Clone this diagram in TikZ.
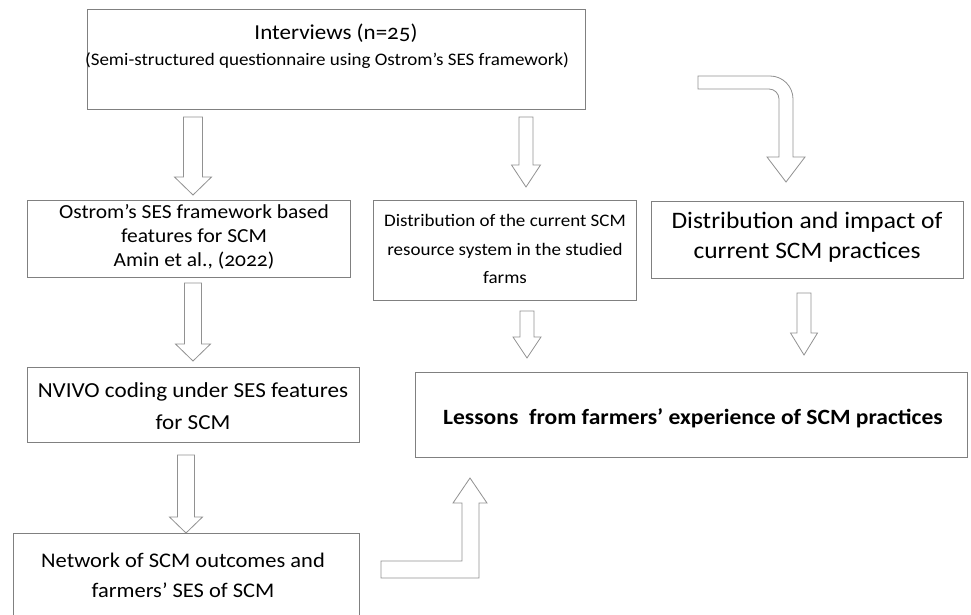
\documentclass[tikz,border=0pt]{standalone}
\usepackage{fontspec}
\setmainfont{Carlito}[Numbers=OldStyle, FakeStretch=1.08]
\definecolor{boxgray}{RGB}{128,128,128}
\definecolor{arrgray}{RGB}{145,145,145}
\tikzset{
  box/.style={draw=boxgray, line width=0.9pt, inner sep=0pt, anchor=north west},
  txt/.style={align=center, inner sep=0pt, text=black},
  blockarr/.style={draw=arrgray, line width=0.8pt, fill=white, line join=miter},
}
% cx, top, head start, tip, shaft width, head width
\newcommand{\blockdown}[6]{%
  \draw[blockarr] ({#1-#5/2},#2) -- ({#1+#5/2},#2) -- ({#1+#5/2},#3) -- ({#1+#6/2},#3)
    -- (#1,#4) -- ({#1-#6/2},#3) -- ({#1-#5/2},#3) -- cycle;}
\begin{document}
\begin{tikzpicture}[x=1pt,y=-1pt]
\useasboundingbox (0,0) rectangle (971,615);
\fill[white] (0,0) rectangle (971,615);

% boxes
\node[box, minimum width=498pt, minimum height=100pt] (b1) at (87,9) {};
\node[box, minimum width=323pt, minimum height=77pt] (b2) at (27,200) {};
\node[box, minimum width=263pt, minimum height=100pt] (b3) at (373,200) {};
\node[box, minimum width=312pt, minimum height=77pt] (b4) at (651,201) {};
\node[box, minimum width=332pt, minimum height=75pt] (b5) at (27,367) {};
\begin{scope}
  \clip (0,0) rectangle (971,615);
  \node[box, minimum width=346pt, minimum height=95pt] (b6) at (13,533) {};
\end{scope}
\node[box, minimum width=552pt, minimum height=85pt] (b7) at (415,372) {};

% texts
\node[txt, font=\fontsize{21.3}{26}\selectfont] (t1a) at (336,33) {Interviews (n=25)};
\node[txt, font=\fontsize{17.6}{22}\selectfont] (t1b) at (327,61) {(Semi-structured questionnaire using Ostrom’s SES framework)};
\node[txt, font=\fontsize{19.9}{24}\selectfont] (t2) at (194,237) {Ostrom’s SES framework based\\features for SCM\\Amin et al., (2022)};
\node[txt, font=\fontsize{17.6}{28.5}\selectfont] (t3) at (505,249) {Distribution of the current SCM\\resource system in the studied\\farms};
\node[txt, font=\fontsize{23.6}{30}\selectfont] (t4) at (807,237) {Distribution and impact of\\current SCM practices};
\node[txt, font=\fontsize{21.4}{32}\selectfont] (t5) at (193,406) {NVIVO coding under SES features\\for SCM};
\node[txt, font=\fontsize{20.8}{30}\selectfont] (t6) at (183,575) {Network of SCM outcomes and\\farmers’ SES of SCM};
\node[txt, font=\bfseries\fontsize{21.8}{26}\selectfont] (t7) at (693,418) {Lessons\ \ from farmers’ experience of SCM practices};

% straight block arrows
\blockdown{193}{117}{177}{195}{19}{37}
\blockdown{526}{117}{165}{187}{14}{29}
\blockdown{193}{283}{344}{361}{17}{35}
\blockdown{186}{455}{517}{533}{17}{33}
\blockdown{527}{311}{337}{358}{14}{28}
\blockdown{804}{293}{333}{355}{14}{27}

% bent arrow from top box to right box
\draw[blockarr] (698,76) -- (770,76) .. controls (782.7,76) and (793,86.3) .. (793,99)
  -- (793,157) -- (805,157) -- (786,182) -- (767,157) -- (779,157) -- (779,99)
  .. controls (779,93.5) and (774.5,89) .. (769,89) -- (698,89) -- cycle;

% bent arrow from network box up to lessons box
\draw[blockarr] (381,561) -- (462,561) -- (462,503) -- (453,503) -- (470,478)
  -- (487,503) -- (479,503) -- (479,578) -- (381,578) -- cycle;
\end{tikzpicture}
\end{document}
